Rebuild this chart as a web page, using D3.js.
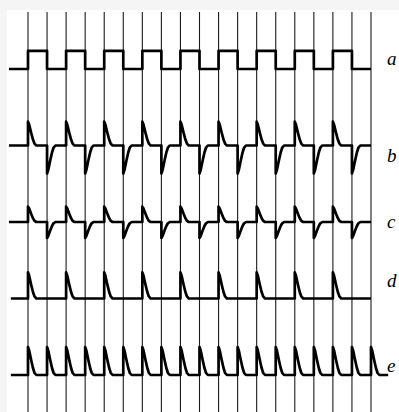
<!DOCTYPE html>
<html>
<head>
<meta charset="utf-8">
<script src="https://cdn.jsdelivr.net/npm/d3@7"></script>
<style>
  html, body { margin: 0; padding: 0; background: #f5f5f5; }
  svg { display: block; }
</style>
</head>
<body>
<div id="chart"></div>
<script>
const width = 399
const height = 412

// time grid, one vertical line per half period
const steps = [0, 1, 2, 3, 4, 5, 6, 7, 8, 9, 10, 11, 12, 13, 14, 15, 16, 17, 18]

// traces, top to bottom
const signals = ['a', 'b', 'c', 'd', 'e']
const traceStart = [-1, -1, -1, -0.9, -0.9]
const traceEnd = [18, 18, 18, 18, 18.9]

// square wave a: level after each step
const levelsA = [1, 0, 1, 0, 1, 0, 1, 0, 1, 0, 1, 0, 1, 0, 1, 0, 1, 0]
const highA = 0.65

// spike height on rising / falling edges of a (fraction of tallest spike)
const riseHeights = [0, 0.85, 0.55, 0.93, 1.0]
const fallHeights = [0, -1.0, -0.57, 0, 1.0]

// decay shape of one spike: [time after edge, fraction of peak]
const pulseShape = [[0, 0], [0, 1], [0.06, 0.88], [0.16, 0.55], [0.26, 0.25], [0.34, 0.08], [0.44, 0]]

// label nudges (style only)
const labelDy = [-4, 16, 6, -12, -3]

const svg = d3
  .select('#chart')
  .append('svg')
  .attr('width', width)
  .attr('height', height)

svg
  .append('rect')
  .attr('x', 7)
  .attr('y', 10)
  .attr('width', width - 7)
  .attr('height', height - 10)
  .attr('fill', '#ffffff')

const xScale = d3.scaleLinear().domain([0, 18]).range([28, 371])
const rowScale = d3.scalePoint().domain(signals).range([69, 375])
const ampScale = d3.scaleLinear().domain([0, 1]).range([0, -28])

// grid lines
svg
  .selectAll('.grid')
  .data(steps)
  .enter()
  .append('line')
  .attr('class', 'grid')
  .attr('x1', d => xScale(d))
  .attr('x2', d => xScale(d))
  .attr('y1', 12)
  .attr('y2', height)
  .attr('stroke', '#1c1c1c')
  .attr('stroke-width', 1.1)

function tracePoints(i) {
  const pts = []
  if (i === 0) {
    let level = 0
    pts.push([traceStart[i], 0])
    levelsA.forEach((next, k) => {
      pts.push([k, level * highA])
      pts.push([k, next * highA])
      level = next
    })
    pts.push([traceEnd[i], level * highA])
    return pts
  }
  pts.push([traceStart[i], 0])
  steps.forEach(k => {
    if (k >= traceEnd[i]) return
    const rising = k % 2 === 0
    const h = rising ? riseHeights[i] : fallHeights[i]
    if (h === 0) return
    pulseShape.forEach(p => pts.push([k + p[0], h * p[1]]))
  })
  pts.push([traceEnd[i], 0])
  return pts
}

const line = d3.line()

signals.forEach((name, i) => {
  const pts = tracePoints(i).map(p => [xScale(p[0]), rowScale(name) + ampScale(p[1])])
  svg
    .append('path')
    .attr('class', 'trace')
    .attr('d', line(pts))
    .attr('fill', 'none')
    .attr('stroke', '#000')
    .attr('stroke-width', 2.7)
    .attr('stroke-linejoin', 'round')
})

svg
  .selectAll('.label')
  .data(signals)
  .enter()
  .append('text')
  .attr('class', 'label')
  .attr('x', 387)
  .attr('y', (d, i) => rowScale(d) + labelDy[i])
  .attr('font-family', 'Liberation Serif, DejaVu Serif, serif')
  .attr('font-style', 'italic')
  .attr('font-size', 19)
  .attr('fill', '#000')
  .text(d => d)
</script>
</body>
</html>
